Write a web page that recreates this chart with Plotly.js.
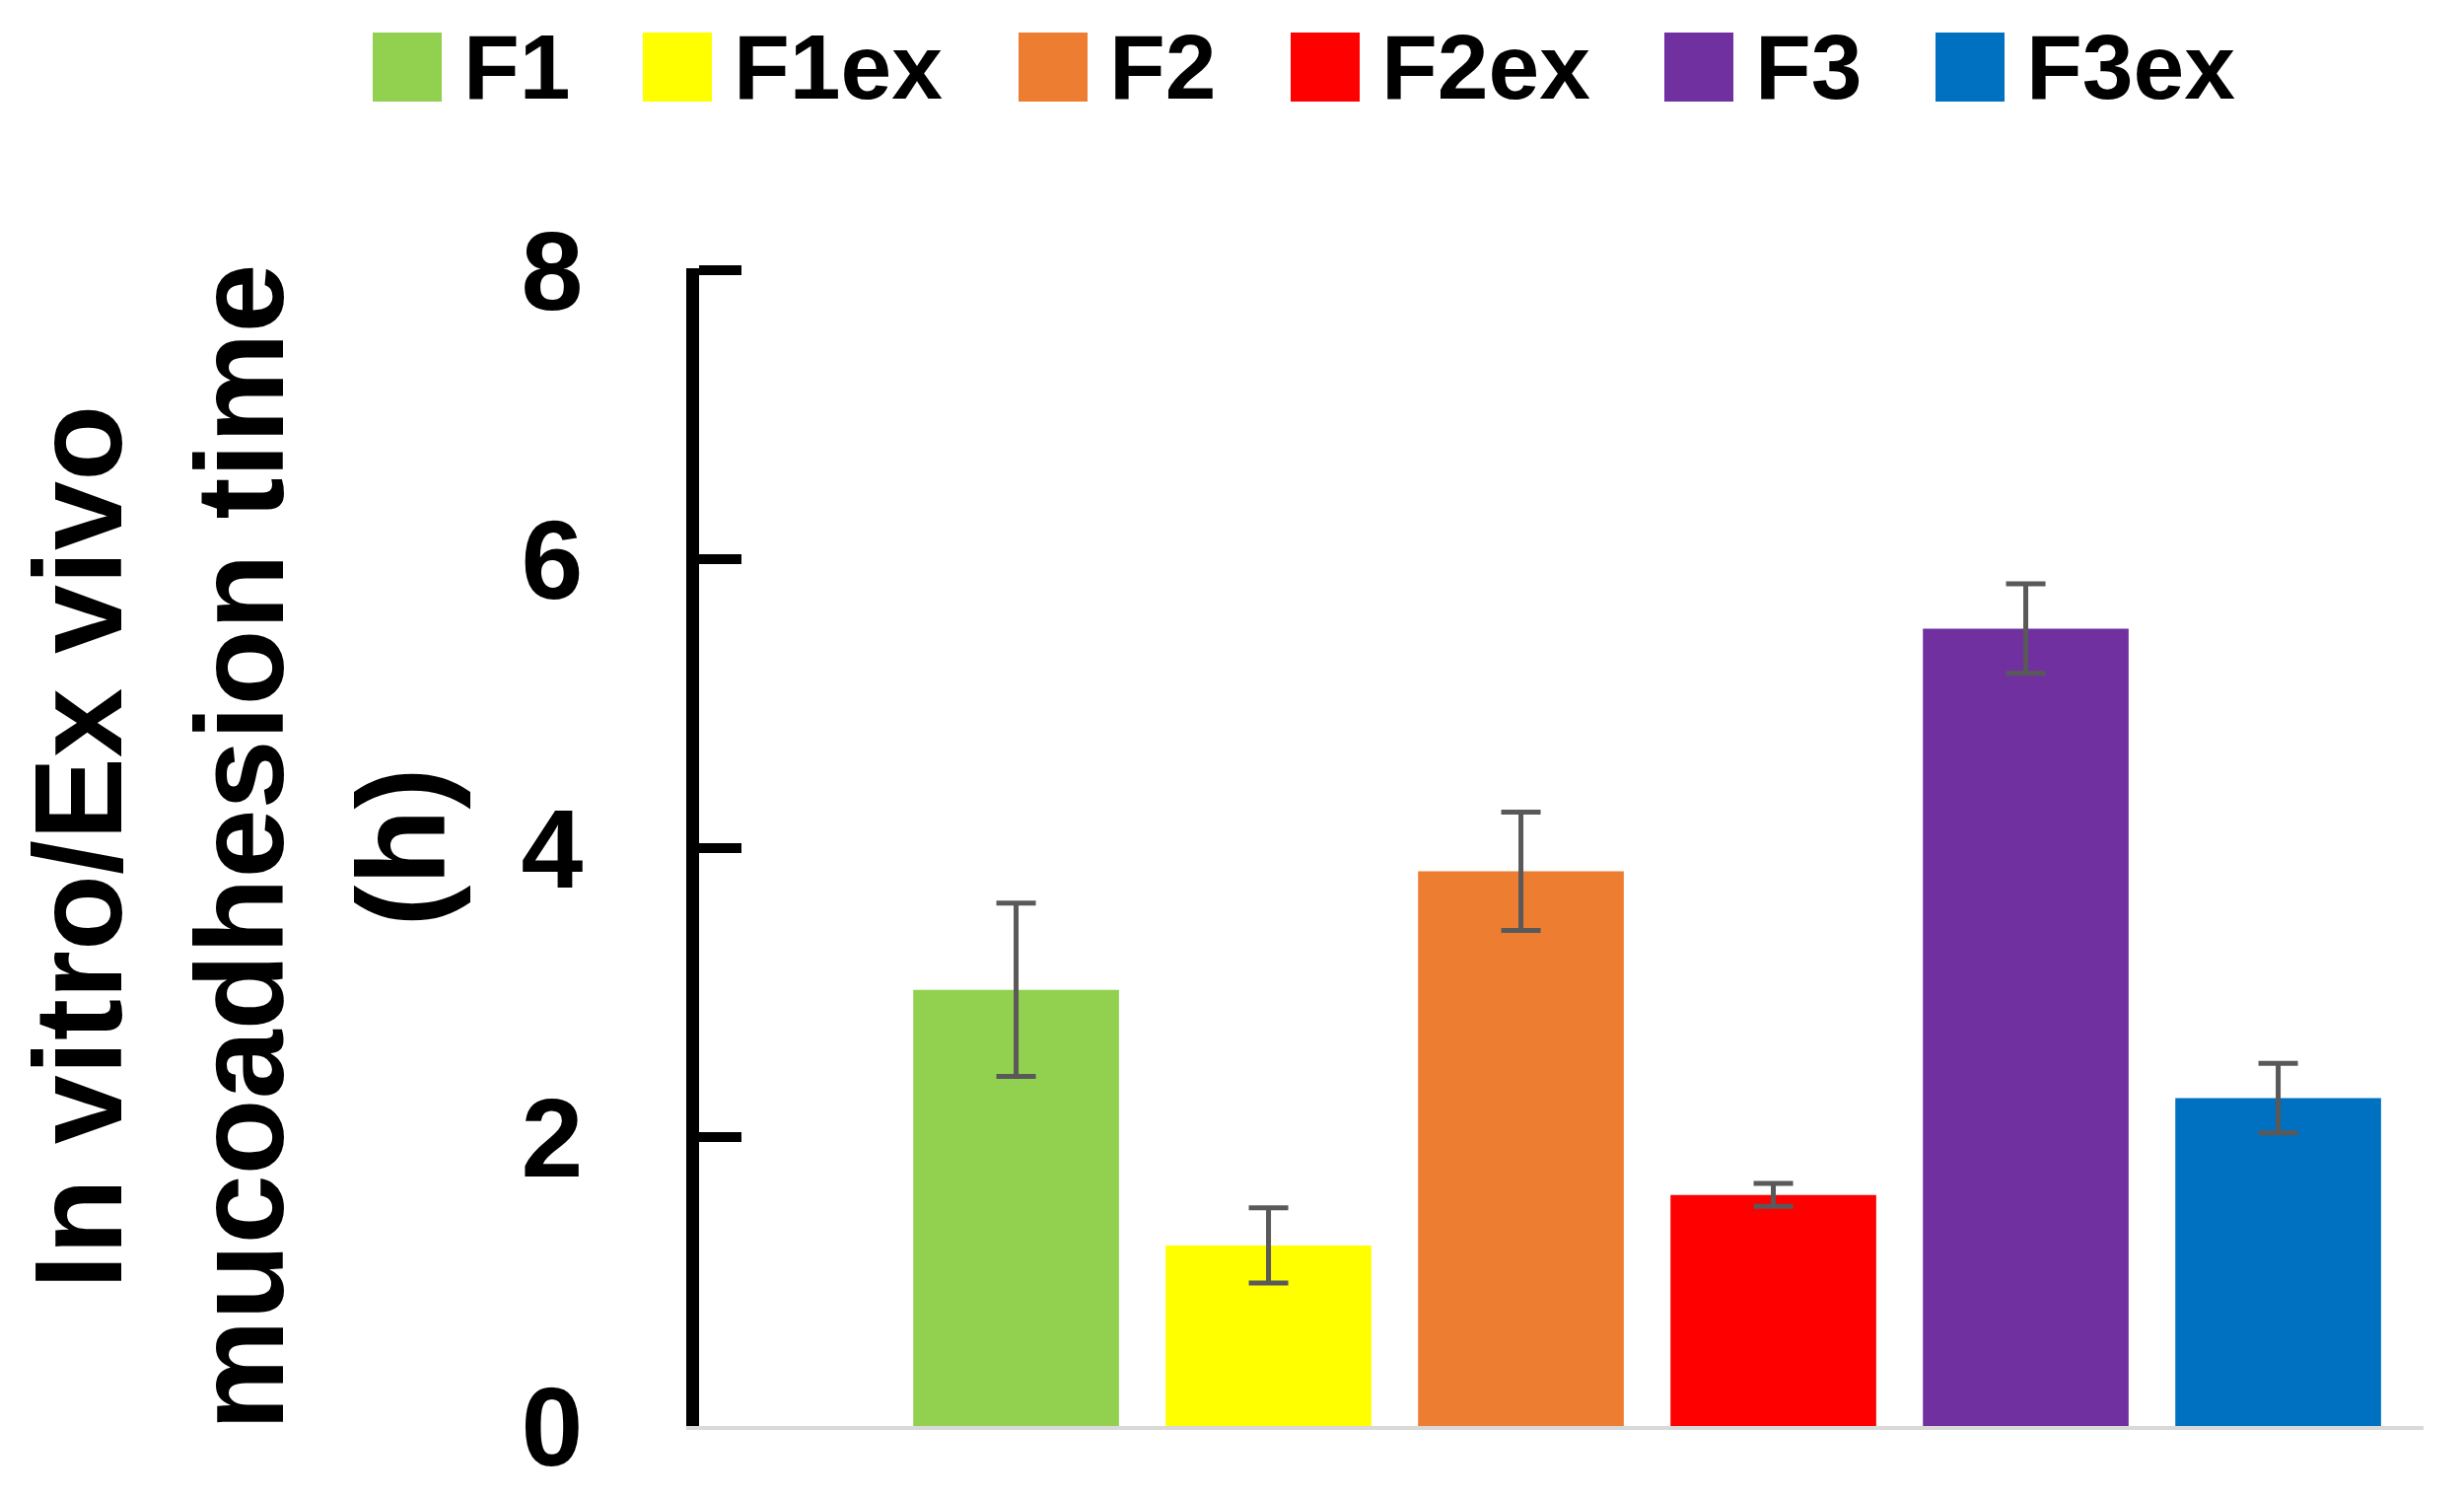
<!DOCTYPE html>
<html><head><meta charset="utf-8">
<script src="https://cdn.plot.ly/plotly-3.0.1.min.js"></script>
<style>html,body{margin:0;padding:0;background:#fff;} #chart{width:2499px;height:1519px;}</style>
</head><body><div id="chart"></div>
<script>
// ---- data ----
const categories = ['F1', 'F1ex', 'F2', 'F2ex', 'F3', 'F3ex'];
const values = [3.02, 1.25, 3.84, 1.60, 5.52, 2.27];
const errors = [0.60, 0.26, 0.41, 0.08, 0.31, 0.24];
const colors = ['#92D050', '#FFFF00', '#ED7D31', '#FF0000', '#7030A0', '#0070C0'];
const yTickVals = [0, 2, 4, 6, 8];
const yTickText = ['0', '2', '4', '6', '8'];
const yTitle = 'In vitro/Ex vivo<br>mucoadhesion time<br>(h)';

// ---- layout constants (pixels) ----
const W = 2499, H = 1519;
const L = 709, R = 2458, T = 272, B = 1446;
const FONT = 'Liberation Sans, Arial, sans-serif';
const legendLeft = [378, 652, 1033, 1309, 1688, 1963];
const swatch = 70, legendTop = 33, textGap = 20;

const px2x = p => (p - L) / (R - L);
const px2y = p => (B - p) / (B - T);

const shapes = [];
const annotations = [];
categories.forEach((c, i) => {
  const x0 = legendLeft[i];
  shapes.push({
    type: 'rect', xref: 'paper', yref: 'paper',
    x0: px2x(x0), x1: px2x(x0 + swatch),
    y0: px2y(legendTop + swatch), y1: px2y(legendTop),
    fillcolor: colors[i], line: {width: 0}
  });
  annotations.push({
    xref: 'paper', yref: 'paper',
    x: px2x(x0 + swatch + textGap), y: px2y(legendTop + swatch / 2),
    xanchor: 'left', yanchor: 'middle', showarrow: false,
    text: c, font: {family: FONT, size: 93, color: '#000', weight: 'bold'}
  });
});

const trace = {
  type: 'bar',
  x: categories,
  y: values,
  width: 0.815,
  marker: {color: colors, line: {width: 0}},
  error_y: {type: 'data', array: errors, visible: true, color: '#595959', thickness: 5, width: 20},
  showlegend: false,
  hoverinfo: 'x+y'
};

const layout = {
  width: W, height: H,
  paper_bgcolor: '#ffffff', plot_bgcolor: '#ffffff',
  margin: {l: L, r: W - R, t: T, b: H - B, pad: 0},
  showlegend: false,
  xaxis: {
    type: 'category',
    range: [-1.256, 5.576],
    showticklabels: false, ticks: '',
    showgrid: false, zeroline: false,
    showline: true, linecolor: '#d9d9d9', linewidth: 4,
    fixedrange: true
  },
  yaxis: {
    range: [0, 8.015],
    tickmode: 'array', tickvals: yTickVals, ticktext: yTickText,
    ticks: 'inside', ticklen: 43, tickwidth: 10, tickcolor: '#000',
    showline: true, linecolor: '#000', linewidth: 13,
    showgrid: false, zeroline: false,
    ticklabelstandoff: 82,
    tickfont: {family: FONT, size: 113, color: '#000', weight: 'bold'},
    title: {text: yTitle, font: {family: FONT, size: 126, color: '#000', weight: 'bold'}, standoff: 40},
    automargin: false,
    fixedrange: true
  },
  shapes: shapes,
  annotations: annotations,
  bargap: 0.2
};

Plotly.newPlot('chart', [trace], layout, {displayModeBar: false, staticPlot: true});
</script>
</body></html>
